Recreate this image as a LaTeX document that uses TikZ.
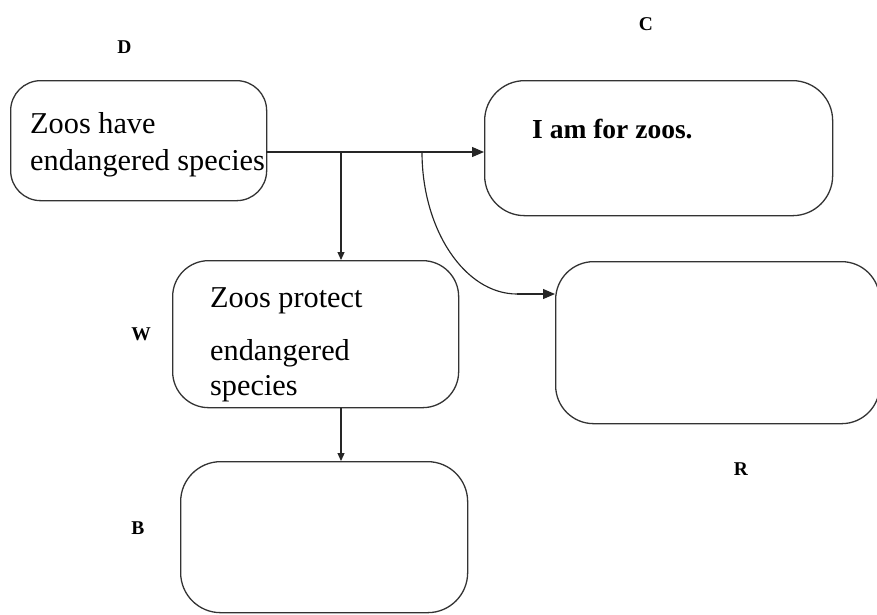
\documentclass[tikz,border=0pt]{standalone}
\usepackage{fontspec}
\setmainfont{Liberation Serif}
\usetikzlibrary{arrows.meta}
\begin{document}
\begin{tikzpicture}[x=1pt,y=-1pt,
  box/.style={draw=black!80,line width=1.3pt,rectangle,inner sep=0pt,anchor=north west},
  txt/.style={anchor=base west,inner sep=0pt,font=\fontsize{30.3}{36}\selectfont},
  lbl/.style={anchor=base,inner sep=0pt,font=\fontsize{19.5}{22}\selectfont\bfseries},
  conn/.style={draw=black!85,line width=1.15pt},
  tip/.style={-{Triangle[length=12pt,width=10pt]}},
  smalltip/.style={-{Triangle[length=8pt,width=7pt]}}]
\useasboundingbox (0,0) rectangle (877,614);
% boxes
\node[box,rounded corners=30pt,minimum width=256pt,minimum height=120pt] (D) at (10,80) {};
\node[box,rounded corners=40pt,minimum width=348pt,minimum height=135pt] (C) at (484,80) {};
\node[box,rounded corners=36pt,minimum width=286pt,minimum height=147pt] (W) at (172,260) {};
\node[box,rounded corners=38pt,minimum width=324pt,minimum height=162pt] (R) at (555,261) {};
\node[box,rounded corners=40pt,minimum width=287pt,minimum height=151pt] (B) at (180,461) {};
% texts
\node[txt] (t1) at (30,133) {Zoos have};
\node[txt] (t2) at (30,170) {endangered species};
\node[txt,font=\fontsize{27.5}{32}\selectfont\bfseries] (t3) at (532,138) {I am for zoos.};
\node[txt] (t4) at (210,307) {Zoos protect};
\node[txt] (t5) at (210,360) {endangered};
\node[txt] (t6) at (210,395) {species};
% labels
\node[lbl] (lD) at (124.5,53) {D};
\node[lbl] (lC) at (646,30) {C};
\node[lbl] (lW) at (141,340) {W};
\node[lbl] (lB) at (138,534) {B};
\node[lbl] (lR) at (741,475) {R};
% connectors
\coordinate (s) at (266,152);
\coordinate (j1) at (341,152);
\coordinate (j2) at (422,152);
\coordinate (k) at (517,294);
\draw[conn,tip] (s) -- (s -| C.west);
\draw[conn,smalltip] (j1) -- (j1 |- W.north);
\draw[conn] (j2) .. controls (422,230) and (465,294) .. (k);
\draw[conn,tip] (k) -- (k -| R.west);
\draw[conn,smalltip] (W.south -| j1) -- (B.north -| j1);
\end{tikzpicture}
\end{document}
